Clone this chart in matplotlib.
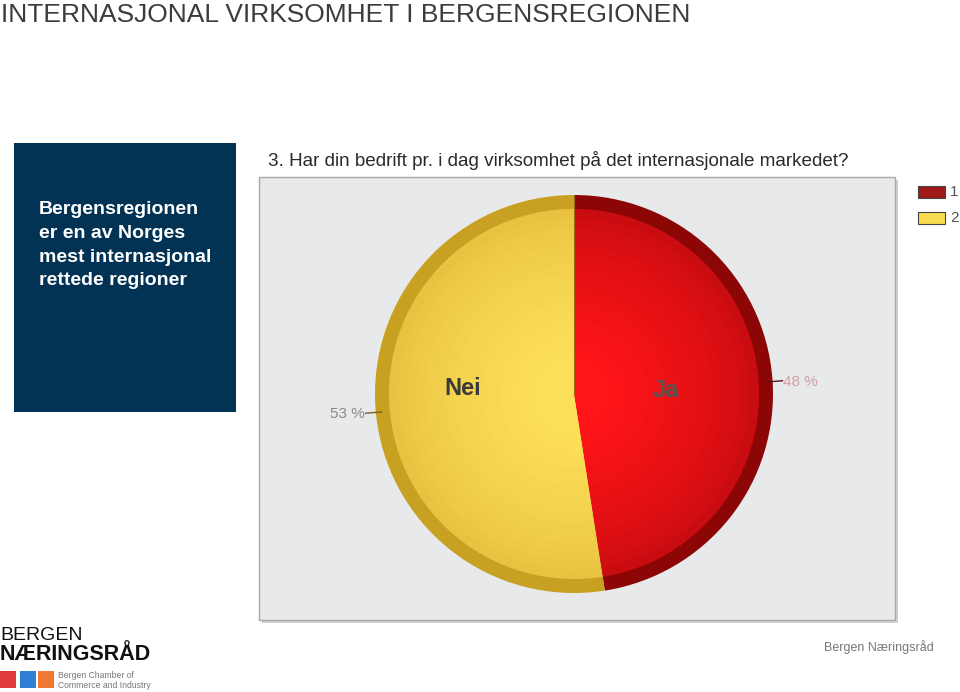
import numpy as np
import matplotlib
matplotlib.use("Agg")
import matplotlib.pyplot as plt
from matplotlib.patches import Rectangle

plt.rcParams['font.family'] = ['Liberation Sans', 'DejaVu Sans']

# data
answers = ["Ja", "Nei"]
legend_codes = ["1", "2"]
shares = [48, 53]            # percent as printed on the chart
rim_colors = ["#8c0606", "#c8a022"]
base_colors = ["#c80c10", "#e8c240"]
light_colors = ["#ff1418", "#fde05a"]

W, H = 960, 692
fig = plt.figure(figsize=(W / 100, H / 100), dpi=100)
fig.patch.set_facecolor("white")

def fx(x): return x / W
def fy(y): return 1 - y / H

# title
fig.text(fx(1), fy(22), "INTERNASJONAL VIRKSOMHET I BERGENSREGIONEN",
         fontsize=19, color="#3c3c3c", va="baseline", ha="left")

# blue info box
fig.patches.append(Rectangle((fx(14), fy(412)), fx(236) - fx(14), fy(143) - fy(412),
                             transform=fig.transFigure, facecolor="#023354",
                             edgecolor="none"))
fig.text(fx(39), fy(201), "Bergensregionen\ner en av Norges\nmest internasjonal\nrettede regioner",
         fontsize=14, fontweight="bold", color="white", va="top", ha="left",
         linespacing=1.52)

# question
fig.text(fx(268), fy(160), "3. Har din bedrift pr. i dag virksomhet på det internasjonale markedet?",
         fontsize=13.6, color="#2a2a2a", va="center", ha="left")

# gray panel with shadow
fig.patches.append(Rectangle((fx(262), fy(623)), fx(898) - fx(262), fy(180) - fy(623),
                             transform=fig.transFigure, facecolor="#d0d0d0",
                             edgecolor="none"))
fig.patches.append(Rectangle((fx(259), fy(620)), fx(895) - fx(259), fy(177) - fy(620),
                             transform=fig.transFigure, facecolor="#e8e9eb",
                             edgecolor="#a8a8a8", linewidth=1))

# pie
cx, cy, r = 574, 394, 199
ax = fig.add_axes([fx(cx - 1.3 * r), fy(cy + 1.3 * r), 2.6 * r / W, 2.6 * r / H])
ax.set_zorder(5)

wedges, _ = ax.pie(shares, colors=rim_colors, startangle=90, counterclock=False,
                   radius=1.0, wedgeprops=dict(linewidth=0))
ax.pie(shares, colors=base_colors, startangle=90, counterclock=False,
       radius=0.93, wedgeprops=dict(linewidth=0))
n_layers = 16
for i in range(n_layers):
    t = (i + 1) / n_layers
    rad = 0.93 * (1 - 0.8 * t)
    cols = []
    for b, l in zip(base_colors, light_colors):
        b = np.array(matplotlib.colors.to_rgb(b))
        l = np.array(matplotlib.colors.to_rgb(l))
        cols.append(tuple(b + (l - b) * t ** 0.7))
    ax.pie(shares, colors=cols, startangle=90, counterclock=False,
           radius=rad, wedgeprops=dict(linewidth=0))
# divider line
ax.plot([0, 0], [0, 1.0], color="#a06a10", lw=0.8)

# percent labels with leader lines
label_cols = ["#d4a0a0", "#8a8a8a"]
line_cols = ["#5a1010", "#7a6020"]
for w, s, lc, lnc in zip(wedges, shares, label_cols, line_cols):
    mid = np.deg2rad((w.theta1 + w.theta2) / 2)
    c, sn = np.cos(mid), np.sin(mid)
    ax.plot([0.97 * c, 1.05 * c], [0.97 * sn - 0.015, 1.05 * sn - 0.015], color=lnc, lw=1)
    ax.text(1.055 * c, 1.055 * sn - 0.02, f"{s} %", fontsize=11, color=lc,
            ha="left" if c > 0 else "right", va="center")

# category labels
name_pos = {"Ja": (0.46, 0.02), "Nei": (-0.56, 0.03)}
name_col = {"Ja": "#555555", "Nei": "#3a3a3a"}
for a in answers:
    x, y = name_pos[a]
    ax.text(x, y, a, fontsize=17, fontweight="bold", color=name_col[a],
            ha="center", va="center")

ax.set_xlim(-1.3, 1.3)
ax.set_ylim(-1.3, 1.3)
ax.set_aspect("equal")
ax.axis("off")

# legend
for i, code in enumerate(legend_codes):
    y0 = 186 + i * 26
    face = "#a01818" if i == 0 else "#f8dc50"
    fig.patches.append(Rectangle((fx(918), fy(y0 + 12)), fx(945) - fx(918), fy(y0) - fy(y0 + 12),
                                 transform=fig.transFigure, facecolor=face,
                                 edgecolor="#444444", linewidth=0.8))
    fig.text(fx(950), fy(y0 + 6), code, fontsize=11, color="#555555", va="center")

# logo
fig.text(fx(0), fy(636), "BERGEN", fontsize=14, color="#111111", va="center", ha="left")
fig.text(fx(0), fy(655), "NÆRINGSRÅD", fontsize=15.5, fontweight="bold", color="#111111",
         va="center", ha="left")
for x0, col in [(0, "#e23a3a"), (20, "#2f7fd4"), (38, "#f07a34")]:
    fig.patches.append(Rectangle((fx(x0), fy(688)), 16 / W, 17 / H,
                                 transform=fig.transFigure, facecolor=col,
                                 edgecolor="none"))
fig.text(fx(58), fy(675), "Bergen Chamber of", fontsize=6.2, color="#777777", va="center")
fig.text(fx(58), fy(685), "Commerce and Industry", fontsize=6.2, color="#777777", va="center")

fig.text(fx(934), fy(647), "Bergen Næringsråd", fontsize=9, color="#777777",
         va="center", ha="right")

fig.savefig("out.png", dpi=100)
